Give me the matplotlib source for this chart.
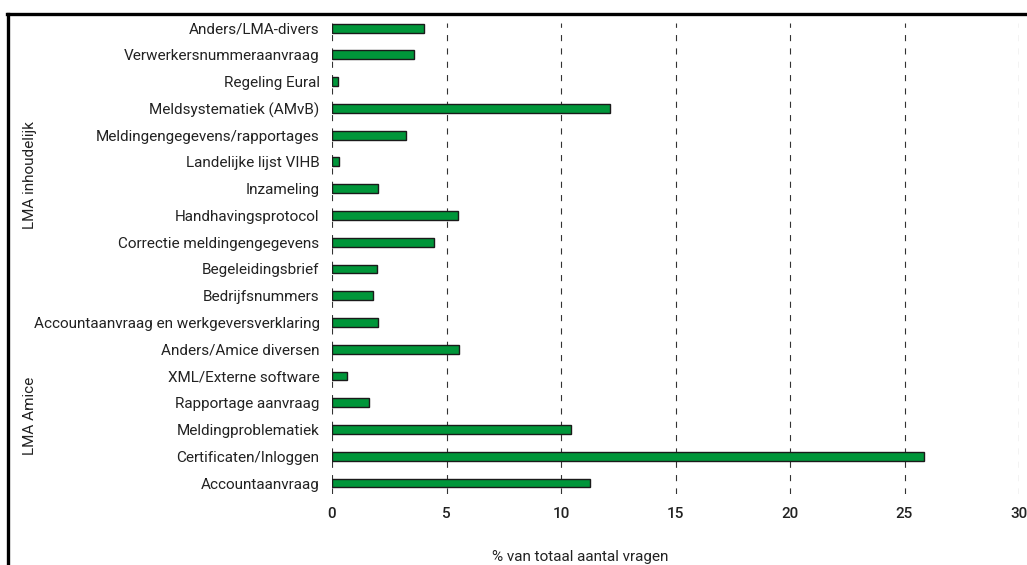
import matplotlib.pyplot as plt
from matplotlib.lines import Line2D
import matplotlib.transforms as mtransforms

plt.rcParams['font.family'] = ['Roboto', 'DejaVu Sans']

# categories from bottom to top
categories = ["Accountaanvraag", "Certificaten/Inloggen", "Meldingproblematiek",
              "Rapportage aanvraag", "XML/Externe software", "Anders/Amice diversen",
              "Accountaanvraag en werkgeversverklaring", "Bedrijfsnummers",
              "Begeleidingsbrief", "Correctie meldingengegevens", "Handhavingsprotocol",
              "Inzameling", "Landelijke lijst VIHB", "Meldingengegevens/rapportages",
              "Meldsystematiek (AMvB)", "Regeling Eural", "Verwerkersnummeraanvraag",
              "Anders/LMA-divers"]
values = [11.25, 25.85, 10.45, 1.6, 0.65, 5.55,
          2.0, 1.8, 1.95, 4.45, 5.5,
          2.0, 0.3, 3.25, 12.15, 0.25, 3.6, 4.0]
groups = ["LMA Amice", "LMA inhoudelijk"]
group_rows = [(0, 5), (6, 17)]
xticks = [0, 5, 10, 15, 20, 25, 30]

fig = plt.figure(figsize=(10.27, 5.65), dpi=100)
ax = fig.add_axes([332/1027, 1-494/565, (1019-332)/1027, (494-23)/565])

ypos = list(range(len(categories)))
ax.barh(ypos, values, height=0.33, color="#00963a", edgecolor="#1a1a1a", linewidth=1, zorder=3)

for t in xticks:
    ax.axvline(t, color="#333333", linewidth=0.8, linestyle=(0, (5.5, 6.5)), zorder=1)

fs = 11
ax.set_xlim(0, 30)
ax.set_ylim(-0.41, 17.19)
ax.set_yticks(ypos)
ax.set_yticklabels(categories, fontsize=fs, color="#222222")
ax.set_xticks(xticks)
ax.set_xticklabels([str(t) for t in xticks], fontsize=fs, color="#222222", fontweight="medium")
ax.tick_params(axis="both", length=0)
ax.tick_params(axis="y", pad=9)
ax.tick_params(axis="x", pad=9)
for s in ax.spines.values():
    s.set_visible(False)

# group labels
trans = mtransforms.blended_transform_factory(fig.transFigure, ax.transData)
for g, (a, b) in zip(groups, group_rows):
    ax.text(30/1027, (a+b)/2, g, transform=trans, rotation=90, ha="center", va="center",
            fontsize=fs, color="#222222")

fig.text(580/1027, 1-557/565, "% van totaal aantal vragen", ha="center", va="center",
         fontsize=fs, color="#222222")

# frame lines
fig.add_artist(Line2D([7/1027, 1], [1-13.5/565, 1-13.5/565], color="black", linewidth=2.4,
                      transform=fig.transFigure))
fig.add_artist(Line2D([8/1027, 8/1027], [0, 1-13.5/565], color="black", linewidth=2.4,
                      transform=fig.transFigure))

fig.savefig("out.png", dpi=100)
